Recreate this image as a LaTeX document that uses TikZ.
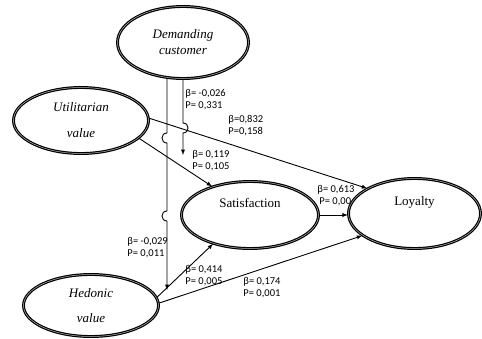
\documentclass[tikz,border=0pt]{standalone}
\usepackage{fontspec}
\setmainfont{Liberation Serif}
\newfontfamily\coeffont{Carlito}
\usetikzlibrary{shapes,arrows}
\tikzstyle{latent} = [draw, ellipse, fill=white, line width=1.2pt,
    double=gray!55, double distance=0.5pt, inner sep=0pt, align=center,
    font=\fontsize{13}{15}\selectfont]
\tikzstyle{coef} = [anchor=north west, inner sep=0pt, align=left,
    font=\coeffont\fontsize{10.5}{12}\selectfont]
\tikzstyle{output} = [coordinate]

\begin{document}
\begin{tikzpicture}[auto, >=latex, x=1pt, y=-1pt, line width=0.9pt]
      \useasboundingbox (0,0) rectangle (482,338);
      % We start by placing the constructs
      \node [latent, minimum width=131, minimum height=72] at (183,42.5) (dem_cust)
          {\textit{Demanding}\\[1pt]\textit{customer}};
      \node [latent, minimum width=135, minimum height=66] at (81,120.5) (util_val)
          {\textit{Utilitarian}\\[11pt]\textit{value}};
      \node [latent, minimum width=137, minimum height=67] at (250,215) (satisf)
          {Satisfaction\\[9pt]~};
      \node [latent, minimum width=132, minimum height=70] at (414.5,213.5) (loyal)
          {Loyalty\\[11pt]~};
      \node [latent, minimum width=135, minimum height=62] at (91,305.5) (hed_val)
          {\textit{Hedonic}\\[10pt]\textit{value}};
      % free ends of the two moderator lines
      \node [output] at (167,290) (hed_in) {};
      \node [output] at (183,155) (sat_in) {};

      % moderator lines (with hops over the crossing paths)
      \draw [->] ([xshift=-16pt]dem_cust.south) -- (167,133)
          .. controls (160.3,133) and (160.3,143) .. (167,143) -- (167,211)
          .. controls (160.3,211) and (160.3,221) .. (167,221) -- (hed_in);
      \draw [->] (dem_cust.south) -- (183,123)
          .. controls (189.7,123) and (189.7,133) .. (183,133) -- (sat_in);

      % direct paths
      \draw [->] (util_val.2) -- (loyal.152);
      \draw [->] (util_val.-17) -- (satisf.143);
      \draw [->] (satisf.east) -- (satisf.east -| loyal.west);
      \draw [->] (hed_val.7) -- (satisf.218);
      \draw [->] (hed_val.2) -- (loyal.203);

      % path coefficients
      \node [coef] at (185,89) (c_dem_sat) {β= -0,026\\P= 0,331};
      \node [coef] at (228,115) (c_util_loy) {β=0,832\\P=0,158};
      \node [coef] at (192,150) (c_util_sat) {β= 0,119\\P= 0,105};
      \node [coef] at (317,185) (c_sat_loy) {β= 0,613\\\hspace{2pt}P= 0,00};
      \node [coef] at (127,237) (c_dem_hed) {β= -0,029\\P= 0,011};
      \node [coef] at (185,265) (c_hed_sat) {β= 0,414\\P= 0,005};
      \node [coef] at (243,277) (c_hed_loy) {β= 0,174\\P= 0,001};
\end{tikzpicture}
\end{document}
